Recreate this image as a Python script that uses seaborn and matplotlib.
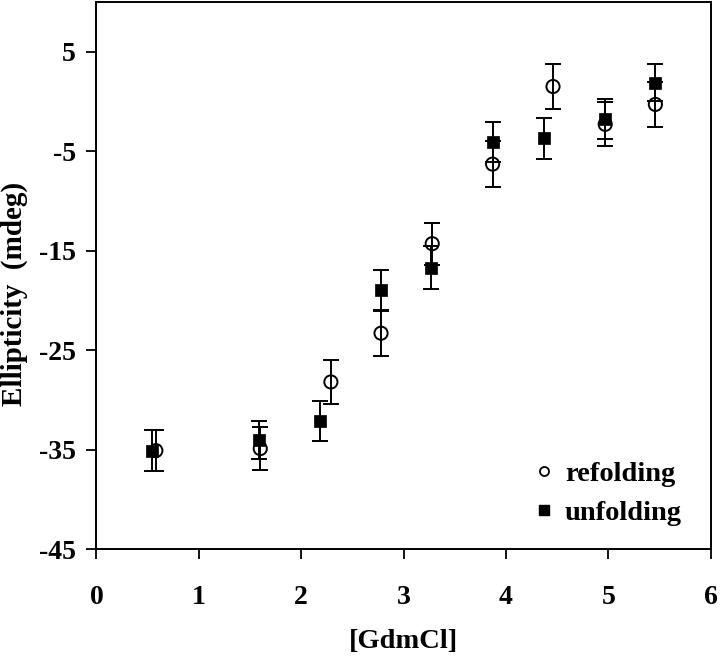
import matplotlib
matplotlib.use("Agg")
import matplotlib.pyplot as plt
from matplotlib.lines import Line2D
import numpy as np
import pandas as pd
import seaborn as sns

# ------------------------------------------------------------------------------
# Data
# ------------------------------------------------------------------------------
refold_x = [0.58, 1.60, 2.29, 2.78, 3.28, 3.87, 4.46, 4.97, 5.46]
refold_y = [-35.1, -34.9, -28.2, -23.3, -14.3, -6.3, 1.5, -2.3, -0.3]
refold_err = [2.1, 2.2, 2.25, 2.3, 2.1, 2.3, 2.25, 2.2, 2.3]

unfold_x = [0.54, 1.59, 2.18, 2.78, 3.27, 3.87, 4.37, 4.97, 5.46]
unfold_y = [-35.1, -34.0, -32.1, -19.0, -16.7, -4.1, -3.7, -1.8, 1.9]
unfold_err = [2.1, 1.9, 2.0, 2.05, 2.2, 2.0, 2.05, 2.0, 1.9]

x_ticks = [0, 1, 2, 3, 4, 5, 6]
y_ticks = [-45, -35, -25, -15, -5, 5]

sns.set_style("ticks")
plt.rcParams['font.family'] = ['Liberation Serif', 'DejaVu Serif']
plt.rcParams['font.weight'] = 'bold'
plt.rcParams['axes.unicode_minus'] = False
# plain black text, like the printed original
for key in ['text.color', 'axes.labelcolor', 'xtick.color', 'ytick.color', 'axes.edgecolor']:
    plt.rcParams[key] = 'black'

df = pd.concat([
    pd.DataFrame({'conc': refold_x, 'ell': refold_y, 'err': refold_err, 'kind': 'refolding'}),
    pd.DataFrame({'conc': unfold_x, 'ell': unfold_y, 'err': unfold_err, 'kind': 'unfolding'}),
], ignore_index=True)

fig = plt.figure(figsize=(7.2, 6.56), dpi=100)
ax = fig.add_axes([0.134, 0.163, 0.853, 0.834])

# Error bars first so the markers sit on top
for kind, sub in df.groupby('kind'):
    ax.errorbar(sub['conc'], sub['ell'], yerr=sub['err'], fmt='none',
                ecolor='black', elinewidth=1.4, capsize=6, capthick=1.4, zorder=2)

ref = df[df['kind'] == 'refolding']
unf = df[df['kind'] == 'unfolding']
sns.scatterplot(data=ref, x='conc', y='ell', ax=ax, marker='o', s=90,
                facecolor='none', edgecolor='black', linewidth=1.4, zorder=3)
sns.scatterplot(data=unf, x='conc', y='ell', ax=ax, marker='s', s=85,
                color='black', edgecolor='black', linewidth=0.5, zorder=4)

ax.set_xlim(0, 6)
ax.set_ylim(-45, 10)
ax.set_xticks(x_ticks)
ax.set_yticks(y_ticks)
ax.tick_params(axis='both', direction='out', length=7, width=1.3, labelsize=20,
               colors='black')
ax.tick_params(axis='x', pad=19)
ax.tick_params(axis='y', pad=8)
for lbl in ax.get_xticklabels() + ax.get_yticklabels():
    lbl.set_fontweight('bold')

for sp in ax.spines.values():
    sp.set_visible(True)
    sp.set_linewidth(1.4)
    sp.set_color('black')

ax.set_xlabel('[GdmCl]', fontsize=20.5, fontweight='bold', color='black')
ax.set_ylabel('Ellipticity  (mdeg)', fontsize=21, fontweight='bold', color='black')
ax.xaxis.set_label_coords(0.5, -0.147)
ax.yaxis.set_label_coords(-0.112, 0.467)

handles = [
    Line2D([], [], marker='o', linestyle='none', markersize=6.5, markerfacecolor='none',
           markeredgecolor='black', markeredgewidth=1.3, label='refolding'),
    Line2D([], [], marker='s', linestyle='none', markersize=7.5, markerfacecolor='black',
           markeredgecolor='black', label='unfolding'),
]
leg = ax.legend(handles=handles, loc='lower right', bbox_to_anchor=(0.995, -0.005), frameon=False,
                prop={'size': 20.5, 'weight': 'bold'}, handlelength=0.6, handletextpad=0.45,
                labelspacing=0.45)
for t in leg.get_texts():
    t.set_color('black')

fig.savefig('out.png', dpi=100)
